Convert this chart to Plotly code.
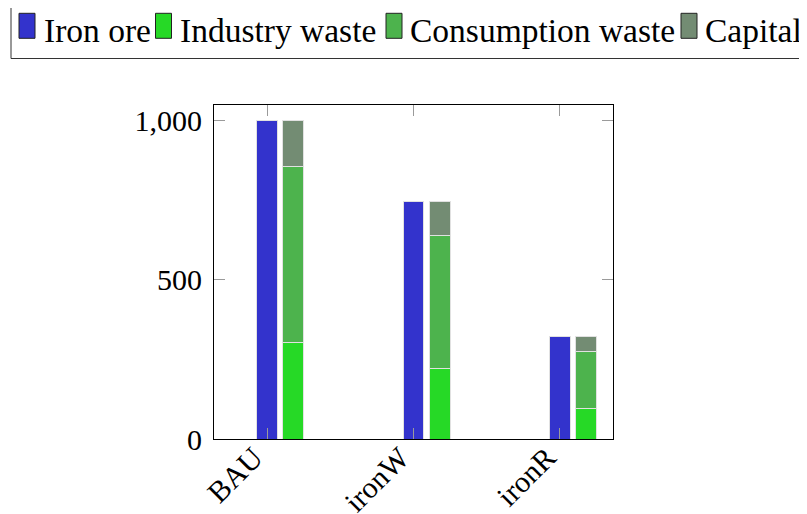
import plotly.graph_objects as go

# ---- data ----
categories = ["BAU", "ironW", "ironR"]
iron_ore = [1000, 746, 322]
industry_waste = [304, 222, 97]
consumption_waste = [553, 419, 179]
capital = [143, 105, 46]
y_ticks = [0, 500, 1000]

series_names = ["Iron ore", "Industry waste", "Consumption waste", "Capital"]
colors = ["#3333cc", "#26d926", "#4db34d", "#738c73"]

OFF = 8                      # page body margin
W, H = 807 - OFF, 514 - OFF  # figure size
L, R, T, B = 214, 613, 105, 439  # plot area in screen pixels

FONT = "Liberation Serif"
edge = dict(color="rgba(225,225,225,1)", width=1)

xpos = list(range(len(categories)))
shift = 0.18
bw = 0.143

fig = go.Figure()
fig.add_trace(go.Bar(x=xpos, y=iron_ore, width=bw, marker=dict(color=colors[0], line=edge),
                     name=series_names[0], showlegend=False))
xs = [v + shift for v in xpos]
for vals, c, n in zip([industry_waste, consumption_waste, capital], colors[1:], series_names[1:]):
    fig.add_trace(go.Bar(x=xs, y=vals, width=bw, marker=dict(color=c, line=edge),
                         name=n, showlegend=False))

fig.update_layout(
    width=W, height=H,
    margin=dict(l=L - OFF, r=W - (R - OFF), t=T - OFF, b=H - (B - OFF), pad=0, autoexpand=False),
    barmode="stack",
    plot_bgcolor="white", paper_bgcolor="white",
    font=dict(family=FONT, size=30, color="black"),
    showlegend=False,
)
fig.update_xaxes(
    range=[-0.362, 2.362], tickmode="array", tickvals=xpos, ticktext=categories,
    tickangle=-45, ticks="inside", ticklen=11, tickcolor="#9a9a9a", tickwidth=1,
    showline=True, linecolor="black", linewidth=1, mirror="ticks",
    showgrid=False, zeroline=False, automargin=False,
    tickfont=dict(family=FONT, size=30),
    ticklabelstandoff=-12, ticklabelshift=-13,
)
fig.update_yaxes(
    range=[0, 1050], tickmode="array", tickvals=y_ticks, tickformat=",",
    ticks="inside", ticklen=11, tickcolor="#9a9a9a", tickwidth=1,
    showline=True, linecolor="black", linewidth=1, mirror="ticks",
    showgrid=False, zeroline=False, automargin=False,
    tickfont=dict(family=FONT, size=30),
    ticklabelstandoff=5,
)

# ---- manual legend (screen pixel -> paper conversions) ----
def px(x):
    return (x - L) / (R - L)

def py(y):
    return (B - y) / (B - T)

fig.add_shape(type="rect", xref="paper", yref="paper",
              x0=px(11), x1=px(830), y0=py(5), y1=py(58.5),
              line=dict(color="#333333", width=1), fillcolor="white", layer="above")
swatch_x = [19, 155.5, 386, 681]
text_x = [42, 177.5, 408, 703]
for sx, tx, c, n in zip(swatch_x, text_x, colors, series_names):
    fig.add_shape(type="rect", xref="paper", yref="paper",
                  x0=px(sx), x1=px(sx + 16), y0=py(13.3), y1=py(38.3),
                  line=dict(color="#222222", width=1), fillcolor=c, layer="above")
    fig.add_annotation(xref="paper", yref="paper", x=px(tx), y=py(31),
                       xanchor="left", yanchor="middle", text=n, showarrow=False,
                       font=dict(family=FONT, size=33.5, color="black"))

fig.write_html("out.html")
